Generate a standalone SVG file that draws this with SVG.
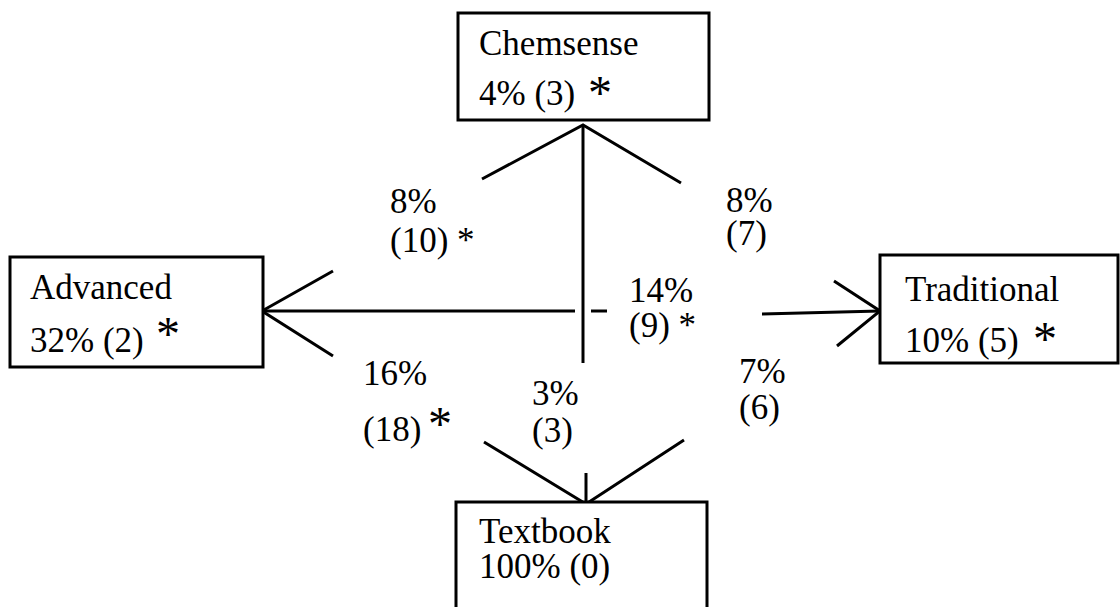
<svg xmlns="http://www.w3.org/2000/svg" width="1120" height="607" viewBox="0 0 1120 607">
<style>
text{font-family:"Liberation Serif","Times New Roman",serif;font-size:35px;fill:#000}
.big{font-size:48px}
.box{fill:#fff;stroke:#000;stroke-width:3}
.ln{fill:none;stroke:#000;stroke-width:3;stroke-linecap:butt;stroke-linejoin:miter}
</style>
<rect width="1120" height="607" fill="#fff"/>
<g id="connectors">
<polyline class="ln" points="482,179 583,125 681,183"/>
<line class="ln" x1="583" y1="125" x2="583" y2="363"/>
<line class="ln" x1="262" y1="311" x2="575" y2="311"/>
<polyline class="ln" points="333,271 262,311 333,356"/>
<line class="ln" x1="591" y1="311" x2="607" y2="311"/>
<line class="ln" x1="762" y1="314" x2="880" y2="311"/>
<polyline class="ln" points="834,281 880,311 837,346"/>
<polyline class="ln" points="484,442 586,504 684,440"/>
<line class="ln" x1="586" y1="473" x2="586" y2="504"/>
</g>
<g id="labels">
<text x="390" y="213">8%</text>
<text x="390" y="252">(10) *</text>
<text x="726" y="212">8%</text>
<text x="726" y="245">(7)</text>
<text x="629" y="302">14%</text>
<text x="629" y="337">(9) *</text>
<text x="363" y="385">16%</text>
<text x="363" y="441">(18)</text>
<text class="big" x="428" y="440">*</text>
<text x="532" y="405">3%</text>
<text x="532" y="442">(3)</text>
<text x="739" y="383">7%</text>
<text x="739" y="419">(6)</text>
</g>
<g id="chemsense">
<rect class="box" x="458" y="13" width="251" height="107"/>
<text x="479" y="55">Chemsense</text>
<text x="479" y="105">4% (3)</text>
<text class="big" x="588" y="109">*</text>
</g>
<g id="advanced">
<rect class="box" x="10" y="257" width="253" height="110"/>
<text x="30" y="299">Advanced</text>
<text x="30" y="352">32% (2)</text>
<text class="big" x="156" y="350">*</text>
</g>
<g id="traditional">
<rect class="box" x="880" y="255" width="238" height="108"/>
<text x="905" y="301">Traditional</text>
<text x="905" y="352">10% (5)</text>
<text class="big" x="1033" y="355">*</text>
</g>
<g id="textbook">
<path class="box" d="M456,610 V502 H707 V610"/>
<text x="479" y="543">Textbook</text>
<text x="479" y="578">100% (0)</text>
</g>
</svg>
